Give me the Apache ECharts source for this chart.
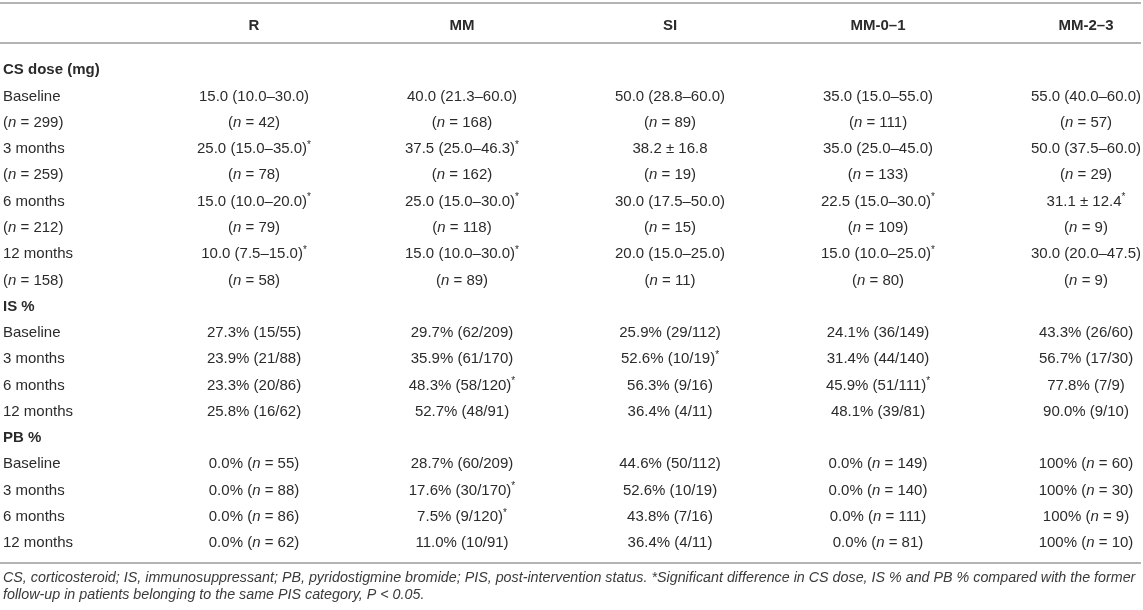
<!DOCTYPE html>
<html>
<head>
<meta charset="utf-8">
<script src="https://cdn.jsdelivr.net/npm/echarts@6/dist/echarts.min.js"></script>
<style>
  html, body { margin: 0; padding: 0; background: #fff; }
  #table-chart { width: 1143px; height: 610px; }
</style>
</head>
<body>
<div id="table-chart"></div>
<script>
// column headers (column 0 holds the row labels)
const columns = ['', 'R', 'MM', 'SI', 'MM-0–1', 'MM-2–3'];

const rowLabels = [
  'CS dose (mg)', 'Baseline', '(n = 299)', '3 months', '(n = 259)', '6 months', '(n = 212)', '12 months', '(n = 158)',
  'IS %', 'Baseline', '3 months', '6 months', '12 months',
  'PB %', 'Baseline', '3 months', '6 months', '12 months'
];
const sectionRows = ['CS dose (mg)', 'IS %', 'PB %'];

const colR = [
  '', '15.0 (10.0–30.0)', '(n = 42)', '25.0 (15.0–35.0)*', '(n = 78)', '15.0 (10.0–20.0)*', '(n = 79)', '10.0 (7.5–15.0)*', '(n = 58)',
  '', '27.3% (15/55)', '23.9% (21/88)', '23.3% (20/86)', '25.8% (16/62)',
  '', '0.0% (n = 55)', '0.0% (n = 88)', '0.0% (n = 86)', '0.0% (n = 62)'
];
const colMM = [
  '', '40.0 (21.3–60.0)', '(n = 168)', '37.5 (25.0–46.3)*', '(n = 162)', '25.0 (15.0–30.0)*', '(n = 118)', '15.0 (10.0–30.0)*', '(n = 89)',
  '', '29.7% (62/209)', '35.9% (61/170)', '48.3% (58/120)*', '52.7% (48/91)',
  '', '28.7% (60/209)', '17.6% (30/170)*', '7.5% (9/120)*', '11.0% (10/91)'
];
const colSI = [
  '', '50.0 (28.8–60.0)', '(n = 89)', '38.2 ± 16.8', '(n = 19)', '30.0 (17.5–50.0)', '(n = 15)', '20.0 (15.0–25.0)', '(n = 11)',
  '', '25.9% (29/112)', '52.6% (10/19)*', '56.3% (9/16)', '36.4% (4/11)',
  '', '44.6% (50/112)', '52.6% (10/19)', '43.8% (7/16)', '36.4% (4/11)'
];
const colMM01 = [
  '', '35.0 (15.0–55.0)', '(n = 111)', '35.0 (25.0–45.0)', '(n = 133)', '22.5 (15.0–30.0)*', '(n = 109)', '15.0 (10.0–25.0)*', '(n = 80)',
  '', '24.1% (36/149)', '31.4% (44/140)', '45.9% (51/111)*', '48.1% (39/81)',
  '', '0.0% (n = 149)', '0.0% (n = 140)', '0.0% (n = 111)', '0.0% (n = 81)'
];
const colMM23 = [
  '', '55.0 (40.0–60.0)', '(n = 57)', '50.0 (37.5–60.0)', '(n = 29)', '31.1 ± 12.4*', '(n = 9)', '30.0 (20.0–47.5)', '(n = 9)',
  '', '43.3% (26/60)', '56.7% (17/30)', '77.8% (7/9)', '90.0% (9/10)',
  '', '100% (n = 60)', '100% (n = 30)', '100% (n = 9)', '100% (n = 10)'
];

const footnote1 = 'CS, corticosteroid; IS, immunosuppressant; PB, pyridostigmine bromide; PIS, post-intervention status. *Significant difference in CS dose, IS % and PB % compared with the former';
const footnote2 = 'follow-up in patients belonging to the same PIS category, P < 0.05.';

const FONT = '"Liberation Sans", Arial, Helvetica, sans-serif';
const TEXT_COLOR = '#2b2b2b';
const RULE_COLOR = '#b4b4b4';

// cells as [col, row, text]
const valueCols = [rowLabels, colR, colMM, colSI, colMM01, colMM23];
const cells = [];
valueCols.forEach((col, ci) => {
  col.forEach((txt, ri) => {
    if (txt) cells.push([ci, ri, txt]);
  });
});

// italic n, small raised star
function toRich(txt){
  return txt.replace(/\(n = /g, '({i|n} = ').replace(/\*/g, '{s|*}');
}

const chart = echarts.init(document.getElementById('table-chart'));

const option = {
  backgroundColor: '#fff',
  animation: false,
  grid: { left: 0, right: 0, top: 57, bottom: 53.7 },
  // column k sits at x = 254 + (k-1)*208 px
  xAxis: {
    type: 'value',
    min: -0.2212,
    max: 5.2740,
    position: 'top',
    axisLine: { show: false },
    axisTick: { show: false },
    splitLine: { show: false },
    axisLabel: {
      customValues: [1, 2, 3, 4, 5],
      formatter: v => columns[Math.round(v)] || '',
      margin: 24,
      color: TEXT_COLOR,
      fontFamily: FONT,
      fontSize: 15,
      fontWeight: 'bold'
    }
  },
  yAxis: {
    type: 'category',
    data: rowLabels.map((d, i) => i),
    inverse: true,
    show: false
  },
  graphic: [
    { type: 'line', shape: { x1: 0, y1: 3, x2: 1141, y2: 3 }, style: { stroke: RULE_COLOR, lineWidth: 2 } },
    { type: 'line', shape: { x1: 0, y1: 43, x2: 1141, y2: 43 }, style: { stroke: RULE_COLOR, lineWidth: 2 } },
    { type: 'line', shape: { x1: 0, y1: 563, x2: 1141, y2: 563 }, style: { stroke: RULE_COLOR, lineWidth: 2 } },
    { type: 'text', left: 3, top: 571, style: { text: footnote1, font: 'italic 14.3px ' + FONT, fill: '#3a3a3a' } },
    { type: 'text', left: 3, top: 588, style: { text: footnote2, font: 'italic 14.3px ' + FONT, fill: '#3a3a3a' } }
  ],
  series: [{
    type: 'custom',
    coordinateSystem: 'cartesian2d',
    data: cells,
    encode: { x: 0, y: 1 },
    silent: true,
    clip: false,
    renderItem: function(params, api){
      const ci = api.value(0);
      const ri = api.value(1);
      const txt = cells[params.dataIndex][2];
      const p = api.coord([ci, ri]);
      const isSection = ci === 0 && sectionRows.indexOf(txt) >= 0;
      return {
        type: 'text',
        style: {
          text: toRich(txt),
          x: ci === 0 ? 3 : p[0],
          y: p[1],
          align: ci === 0 ? 'left' : 'center',
          verticalAlign: 'middle',
          fontFamily: FONT,
          fontSize: 15,
          fontWeight: isSection ? 'bold' : 'normal',
          fill: TEXT_COLOR,
          lineHeight: 18,
          rich: {
            i: { fontFamily: FONT, fontSize: 15, fontStyle: 'italic', fill: TEXT_COLOR, color: TEXT_COLOR, lineHeight: 18 },
            s: { fontFamily: FONT, fontSize: 10, fill: TEXT_COLOR, color: TEXT_COLOR, lineHeight: 18, verticalAlign: 'top', padding: [0, 0, 6, 0] }
          }
        }
      };
    }
  }]
};

chart.setOption(option);
</script>
</body>
</html>
